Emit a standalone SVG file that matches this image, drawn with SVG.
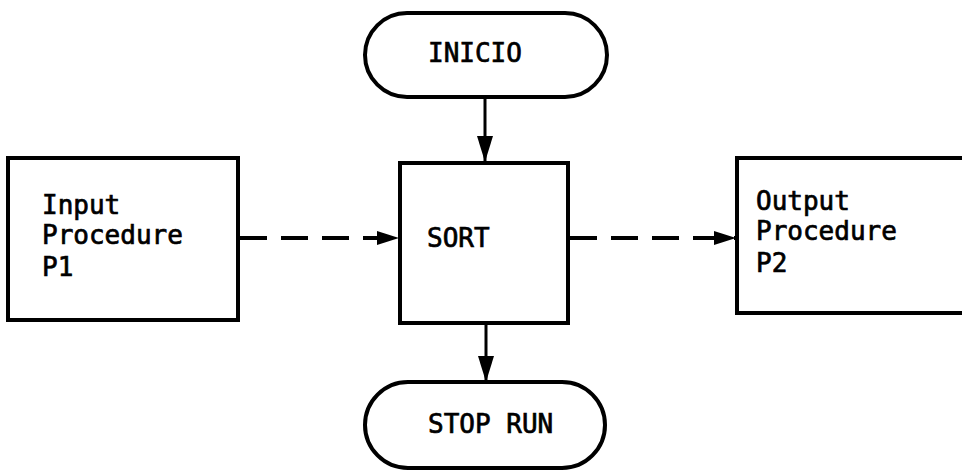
<svg xmlns="http://www.w3.org/2000/svg" width="962" height="472" viewBox="0 0 962 472">
  <defs>
    <style>
      .shape { fill: #ffffff; stroke: #000000; stroke-width: 4; }
      .label { font-family: "DejaVu Sans Mono", "Liberation Mono", monospace; font-size: 26px; fill: #000000; stroke: #000000; stroke-width: 0.7; }
      .solid { stroke: #000000; stroke-width: 3; fill: none; }
      .dash { stroke: #000000; stroke-width: 4; fill: none; stroke-dasharray: 27 14; }
    </style>
    <marker id="arrow" markerWidth="22" markerHeight="14" refX="21" refY="7" orient="auto" markerUnits="userSpaceOnUse" viewBox="0 0 22 14">
      <path d="M0,0 L22,7 L0,14 Z" fill="#000000"/>
    </marker>
    <marker id="arrowV" markerWidth="26" markerHeight="16" refX="25" refY="8" orient="auto" markerUnits="userSpaceOnUse" viewBox="0 0 26 16">
      <path d="M0,0 L26,8 L0,16 Z" fill="#000000"/>
    </marker>
  </defs>
  <rect width="962" height="472" fill="#ffffff"/>

  <g id="connectors">
    <line class="solid" x1="485" y1="97" x2="485" y2="161" marker-end="url(#arrowV)"/>
    <line class="solid" x1="486" y1="323" x2="486" y2="381" marker-end="url(#arrowV)"/>
    <line class="dash" x1="240" y1="238" x2="398" y2="238" marker-end="url(#arrow)"/>
    <line class="dash" x1="570" y1="238" x2="735" y2="238" marker-end="url(#arrow)"/>
  </g>

  <g id="inicio">
    <rect class="shape" x="365" y="13" width="242" height="84" rx="42" ry="42"/>
    <text class="label" x="428" y="62">INICIO</text>
  </g>

  <g id="input">
    <rect class="shape" x="8" y="158" width="230" height="162"/>
    <text class="label" x="42" y="214">Input</text>
    <text class="label" x="42" y="244">Procedure</text>
    <text class="label" x="42" y="276">P1</text>
  </g>

  <g id="sort">
    <rect class="shape" x="400" y="163" width="168" height="160"/>
    <text class="label" x="427" y="247">SORT</text>
  </g>

  <g id="output">
    <rect class="shape" x="737" y="158" width="240" height="155"/>
    <text class="label" x="756" y="210">Output</text>
    <text class="label" x="756" y="240">Procedure</text>
    <text class="label" x="756" y="272">P2</text>
  </g>

  <g id="stoprun">
    <rect class="shape" x="365" y="382" width="240" height="86" rx="43" ry="43"/>
    <text class="label" x="428" y="433">STOP RUN</text>
  </g>
</svg>
